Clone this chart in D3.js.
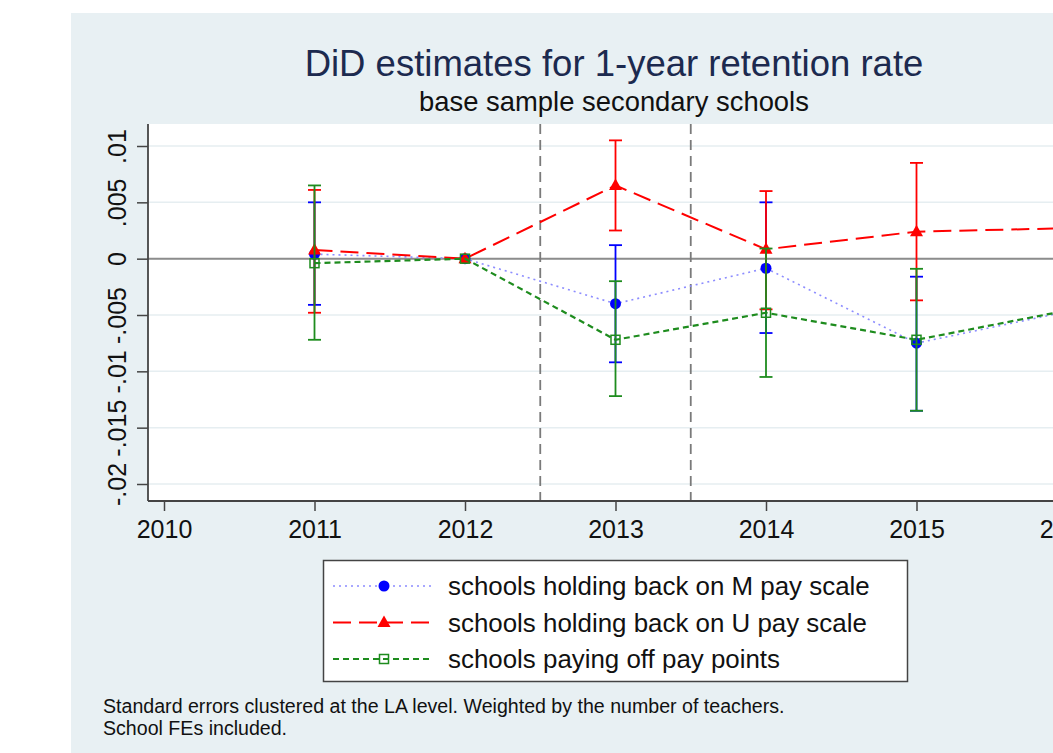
<!DOCTYPE html>
<html>
<head>
<meta charset="utf-8">
<script src="https://cdn.jsdelivr.net/npm/d3@7"></script>
<style>
	body { margin: 0; background: #fff; }
	text { font-family: "Liberation Sans", Arial, Helvetica, sans-serif; }
</style>
</head>
<body>
<svg id="chart" width="1053" height="753"></svg>
<script>

	var years = [2011, 2012, 2013, 2014, 2015, 2016];

	// point estimates
	var mScale = [0.0004, 0, -0.0040, -0.00085, -0.0075, -0.0047];
	var uScale = [0.00077, 0, 0.0065, 0.00083, 0.0024, 0.0027];
	var payOff = [-0.0004, 0, -0.0072, -0.0048, -0.0072, -0.0046];

	// confidence intervals (null = no bar drawn)
	var mLow = [-0.0041, null, -0.0092, -0.0066, -0.0135, null];
	var mHigh = [0.0050, null, 0.0012, 0.0050, -0.0016, null];
	var uLow = [-0.0048, null, 0.0025, -0.0045, -0.0037, null];
	var uHigh = [0.0061, null, 0.0105, 0.0060, 0.0085, null];
	var pLow = [-0.0072, null, -0.0122, -0.0105, -0.0135, null];
	var pHigh = [0.0065, null, -0.0020, 0.0009, -0.0009, null];

	var xTicks = [2010, 2011, 2012, 2013, 2014, 2015, 2016];
	var yTicks = [0.01, 0.005, 0, -0.005, -0.01, -0.015, -0.02];
	var yTickLabels = [".01", ".005", "0", "-.005", "-.01", "-.015", "-.02"];
	var policyLines = [2012.5, 2013.5];

	var seriesNames = [
		"schools holding back on M pay scale",
		"schools holding back on U pay scale",
		"schools paying off pay points"
	];

	var series = [
		{ name: seriesNames[0], est: mScale, lo: mLow, hi: mHigh, color: "#0000ff", lineColor: "#8c8cff", dash: "2,4", width: 1.6, marker: "circle" },
		{ name: seriesNames[1], est: uScale, lo: uLow, hi: uHigh, color: "#ff0000", lineColor: "#ff0000", dash: "18,8", width: 2, marker: "triangle" },
		{ name: seriesNames[2], est: payOff, lo: pLow, hi: pHigh, color: "#1e8c1e", lineColor: "#1e8c1e", dash: "6,4", width: 2.2, marker: "square" }
	];

	var svg = d3.select("#chart");

	var plot = { left: 148, top: 124, right: 1080, bottom: 501 };

	var x = d3.scaleLinear().domain([2010, 2015]).range([164, 916.5]);
	var y = d3.scaleLinear().domain([0.01, -0.02]).range([146, 484]);

	// outer panel
	svg.append("rect")
		.attr("x", 71).attr("y", 13)
		.attr("width", 1000).attr("height", 760)
		.attr("fill", "#e8f0f3");

	svg.append("rect")
		.attr("x", plot.left).attr("y", plot.top)
		.attr("width", plot.right - plot.left).attr("height", plot.bottom - plot.top)
		.attr("fill", "#fff");

	svg.append("defs").append("clipPath").attr("id", "clip")
		.append("rect")
		.attr("x", plot.left).attr("y", plot.top)
		.attr("width", plot.right - plot.left).attr("height", plot.bottom - plot.top);

	// gridlines
	svg.append("g")
		.attr("class", "grid")
		.selectAll("line")
		.data(yTicks)
		.enter()
		.append("line")
		.attr("x1", plot.left).attr("x2", plot.right)
		.attr("y1", function(d) { return y(d); })
		.attr("y2", function(d) { return y(d); })
		.attr("stroke", "#e6eef1")
		.attr("stroke-width", 1.5);

	// zero line
	svg.append("line")
		.attr("x1", plot.left).attr("x2", plot.right)
		.attr("y1", y(0)).attr("y2", y(0))
		.attr("stroke", "#8c8c8c")
		.attr("stroke-width", 2);

	// policy lines
	svg.append("g")
		.selectAll("line")
		.data(policyLines)
		.enter()
		.append("line")
		.attr("x1", function(d) { return x(d); })
		.attr("x2", function(d) { return x(d); })
		.attr("y1", plot.top).attr("y2", plot.bottom)
		.attr("stroke", "#7a7a7a")
		.attr("stroke-width", 1.8)
		.attr("stroke-dasharray", "10,6");

	// axes
	var yAxis = d3.axisLeft(y)
		.tickValues(yTicks)
		.tickSize(11)
		.tickFormat(function(d, i) { return yTickLabels[i]; });

	var gy = svg.append("g")
		.attr("transform", "translate(" + plot.left + ",0)")
		.call(yAxis);

	gy.select(".domain").attr("d", "M0," + plot.top + "V" + plot.bottom);
	gy.selectAll("line").attr("stroke", "#444").attr("stroke-width", 1.5);
	gy.selectAll("text")
		.attr("x", 0).attr("y", 0)
		.attr("dy", null)
		.attr("text-anchor", "middle")
		.attr("transform", "translate(-22,0) rotate(-90)")
		.attr("font-size", 25)
		.attr("fill", "#111");

	var xAxis = d3.axisBottom(x)
		.tickValues(xTicks)
		.tickSize(10)
		.tickFormat(d3.format("d"));

	var gx = svg.append("g")
		.attr("transform", "translate(0," + plot.bottom + ")")
		.call(xAxis);

	gx.select(".domain").attr("d", "M" + plot.left + ",0H" + plot.right);
	gx.selectAll("line").attr("stroke", "#444").attr("stroke-width", 1.5);
	gx.selectAll("text")
		.attr("y", 37).attr("dy", null)
		.attr("font-size", 25)
		.attr("fill", "#111");

	svg.selectAll(".domain").attr("stroke", "#444").attr("stroke-width", 1.8);

	// series
	var marks = svg.append("g").attr("clip-path", "url(#clip)");

	function drawMarker(sel, s, cx, cy) {
		if (s.marker == "circle") {
			sel.append("circle")
				.attr("cx", cx).attr("cy", cy).attr("r", 5.5)
				.attr("fill", s.color);
		} else if (s.marker == "triangle") {
			sel.append("path")
				.attr("d", "M" + cx + "," + (cy - 7) + "L" + (cx + 6.5) + "," + (cy + 4.5) + "L" + (cx - 6.5) + "," + (cy + 4.5) + "Z")
				.attr("fill", s.color);
		} else {
			sel.append("rect")
				.attr("x", cx - 4.5).attr("y", cy - 4.5)
				.attr("width", 9).attr("height", 9)
				.attr("fill", "none")
				.attr("stroke", s.color)
				.attr("stroke-width", 1.5);
		}
	}

	series.forEach(function(s) {
		var g = marks.append("g");

		var line = d3.line()
			.x(function(d, i) { return x(years[i]); })
			.y(function(d) { return y(d); });

		g.append("path")
			.attr("d", line(s.est))
			.attr("fill", "none")
			.attr("stroke", s.lineColor)
			.attr("stroke-width", s.width)
			.attr("stroke-dasharray", s.dash);

		var ci = years.map(function(yr, i) { return { yr: yr, lo: s.lo[i], hi: s.hi[i] }; })
			.filter(function(d) { return d.lo != null; });

		var bars = g.selectAll(".ci")
			.data(ci)
			.enter()
			.append("g")
			.attr("stroke", s.color)
			.attr("stroke-width", 1.8);

		bars.append("line")
			.attr("x1", function(d) { return x(d.yr); })
			.attr("x2", function(d) { return x(d.yr); })
			.attr("y1", function(d) { return y(d.lo); })
			.attr("y2", function(d) { return y(d.hi); });

		bars.append("line")
			.attr("x1", function(d) { return x(d.yr) - 6.5; })
			.attr("x2", function(d) { return x(d.yr) + 6.5; })
			.attr("y1", function(d) { return y(d.lo); })
			.attr("y2", function(d) { return y(d.lo); });

		bars.append("line")
			.attr("x1", function(d) { return x(d.yr) - 6.5; })
			.attr("x2", function(d) { return x(d.yr) + 6.5; })
			.attr("y1", function(d) { return y(d.hi); })
			.attr("y2", function(d) { return y(d.hi); });

		s.est.forEach(function(v, i) {
			drawMarker(g, s, x(years[i]), y(v));
		});
	});

	// titles
	svg.append("text")
		.attr("x", 614).attr("y", 76)
		.attr("text-anchor", "middle")
		.attr("font-size", 36.5)
		.attr("fill", "#1c2a4f")
		.text("DiD estimates for 1-year retention rate");

	svg.append("text")
		.attr("x", 614).attr("y", 111)
		.attr("text-anchor", "middle")
		.attr("font-size", 27.4)
		.attr("fill", "#111")
		.text("base sample secondary schools");

	// legend
	var legend = svg.append("g");

	legend.append("rect")
		.attr("x", 323.5).attr("y", 560.5)
		.attr("width", 584).attr("height", 121)
		.attr("fill", "#fff")
		.attr("stroke", "#444")
		.attr("stroke-width", 1.5);

	series.forEach(function(s, i) {
		var ly = 586 + i * 36.5;
		legend.append("line")
			.attr("x1", 333).attr("x2", 433)
			.attr("y1", ly).attr("y2", ly)
			.attr("stroke", s.lineColor)
			.attr("stroke-width", s.width)
			.attr("stroke-dasharray", s.dash);
		drawMarker(legend, s, 384, ly);
		legend.append("text")
			.attr("x", 448).attr("y", ly + 9)
			.attr("font-size", 25.9)
			.attr("fill", "#111")
			.text(s.name);
	});

	// note
	var note = svg.append("text")
		.attr("font-size", 19.6)
		.attr("fill", "#111");
	note.append("tspan").attr("x", 103).attr("y", 713)
		.text("Standard errors clustered at the LA level. Weighted by the number of teachers.");
	note.append("tspan").attr("x", 103).attr("y", 735)
		.text("School FEs included.");

</script>
</body>
</html>
